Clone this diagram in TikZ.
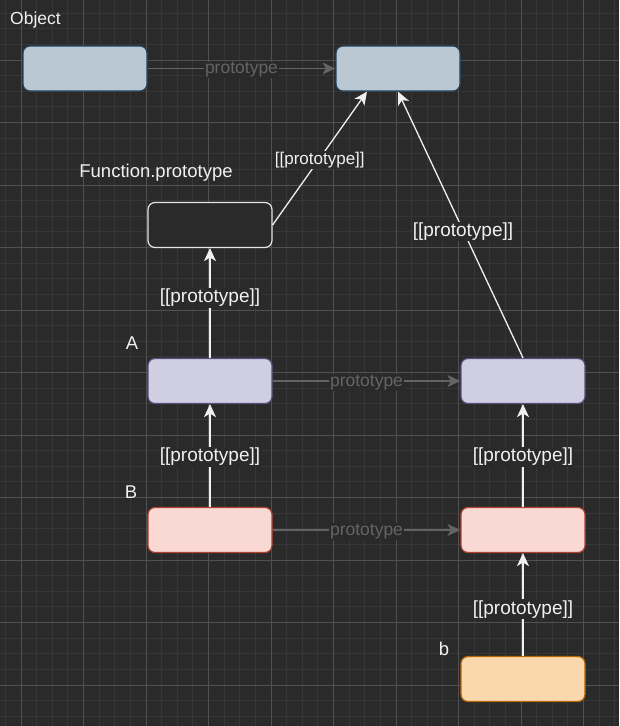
\documentclass[tikz,border=0pt]{standalone}
\usepackage{fontspec}
\setmainfont{Liberation Sans}
\usetikzlibrary{arrows.meta}
\definecolor{bg}{HTML}{2A2A2A}
\definecolor{minorgrid}{HTML}{363636}
\definecolor{majorgrid}{HTML}{505050}
\definecolor{edgegray}{HTML}{646464}
\definecolor{ink}{HTML}{F0F0F0}
\definecolor{objfill}{HTML}{BAC8D3}
\definecolor{objline}{HTML}{23445D}
\definecolor{funcline}{HTML}{E6E6E6}
\definecolor{afill}{HTML}{D0CEE2}
\definecolor{aline}{HTML}{56517E}
\definecolor{bfill}{HTML}{FAD9D5}
\definecolor{bline}{HTML}{AE4132}
\definecolor{instfill}{HTML}{FAD7AC}
\definecolor{instline}{HTML}{B46504}
\begin{document}
\begin{tikzpicture}[x=1pt,y=-1pt,
  protobox/.style={draw,rounded corners=7pt,line width=1.2pt,minimum width=124pt,minimum height=45pt,inner sep=0pt},
  objbox/.style={protobox,fill=objfill,draw=objline},
  funcbox/.style={protobox,fill=bg,draw=funcline},
  abox/.style={protobox,fill=afill,draw=aline},
  bbox/.style={protobox,fill=bfill,draw=bline},
  instbox/.style={protobox,fill=instfill,draw=instline},
  tag/.style={text=ink,font=\fontsize{18.5}{20}\selectfont,inner sep=0pt,yshift=-1.5pt},
  warrow/.style={draw=ink,line width=1.3pt,-{Stealth[length=13pt,width=12pt,inset=3.5pt]}},
  garrow/.style={draw=edgegray,line width=1.3pt,-{Stealth[length=13pt,width=12pt,inset=3.5pt]}},
  wlabel/.style={fill=bg,text=ink,font=\fontsize{19}{20}\selectfont,inner sep=1pt,yshift=-1.5pt},
  glabel/.style={fill=bg,text=edgegray,font=\fontsize{17.5}{20}\selectfont,inner sep=1pt,yshift=-1.5pt}]
  \useasboundingbox (0,0) rectangle (619,726);
  \fill[bg] (0,0) rectangle (619,726);
  % grid
  \foreach \i in {-1,...,38} \draw[minorgrid,line width=0.8pt] ({21+15.625*\i},0) -- ++(0,726);
  \foreach \j in {1,...,46} \draw[minorgrid,line width=0.8pt] (0,{-2.5+15.625*\j}) -- ++(619,0);
  \foreach \i in {0,...,9} \draw[majorgrid,line width=0.8pt] ({21+62.5*\i},0) -- ++(0,726);
  \foreach \j in {1,...,11} \draw[majorgrid,line width=0.8pt] (0,{-2.5+62.5*\j}) -- ++(619,0);
  % boxes
  \node[objbox] (obj) at (85,68.5) {};
  \node[objbox] (objproto) at (398,68.5) {};
  \node[funcbox] (funcproto) at (210,225) {};
  \node[abox] (a) at (210,381) {};
  \node[abox] (aproto) at (523,381) {};
  \node[bbox] (b) at (210,530) {};
  \node[bbox] (bproto) at (523,530) {};
  \node[instbox] (binst) at (523,679) {};
  % names
  \node[tag,anchor=west,font=\fontsize{17.5}{20}\selectfont] at (10,18) {Object};
  \node[tag] at (156,171) {Function.prototype};
  \node[tag] at (132,342) {A};
  \node[tag] at (131,491) {B};
  \node[tag] at (444,647) {b};
  % links
  \draw (obj) edge[garrow] node[glabel] {prototype} (objproto);
  \draw (a) edge[garrow] node[glabel] {prototype} (aproto);
  \draw (b) edge[garrow] node[glabel] {prototype} (bproto);
  \draw (funcproto.east) edge[warrow] node[wlabel,font=\fontsize{17}{20}\selectfont] {[[prototype]]} ([xshift=-31pt]objproto.south);
  \draw (aproto.north) edge[warrow] node[wlabel,pos=0.48] {[[prototype]]} (objproto.south);
  \draw (a) edge[warrow] node[wlabel,pos=0.56] {[[prototype]]} (funcproto);
  \draw (b) edge[warrow] node[wlabel] {[[prototype]]} (a);
  \draw (bproto) edge[warrow] node[wlabel] {[[prototype]]} (aproto);
  \draw (binst) edge[warrow] node[wlabel,pos=0.47] {[[prototype]]} (bproto);
\end{tikzpicture}
\end{document}
